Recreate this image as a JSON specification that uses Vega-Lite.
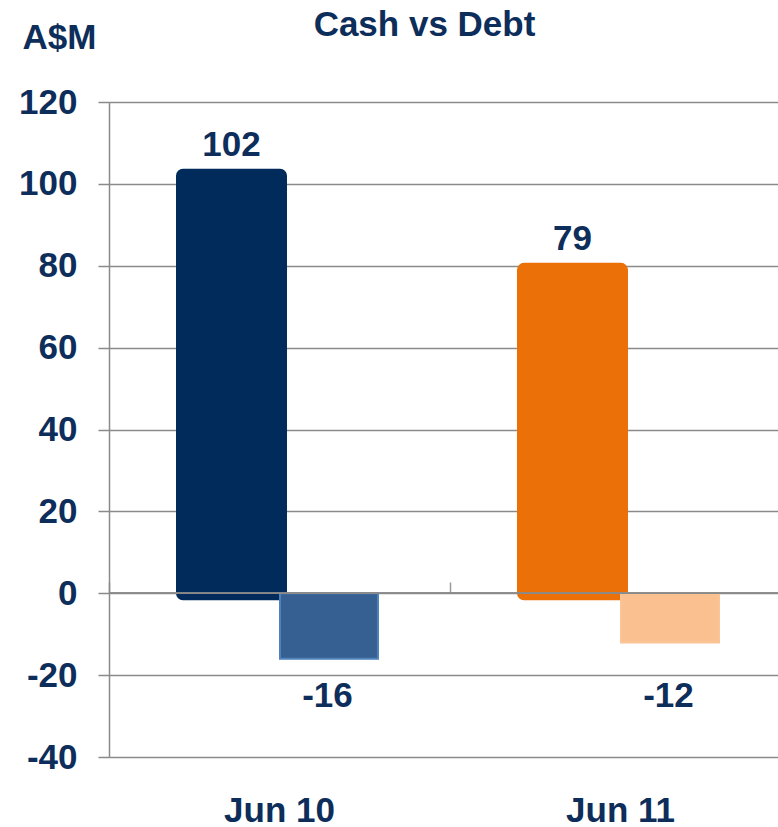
{
  "$schema": "https://vega.github.io/schema/vega-lite/v6.json",
  "autosize": "none",
  "padding": {"left": 109, "top": 102, "right": 0, "bottom": 70},
  "width": 669,
  "height": 655,
  "background": "white",
  "title": {"text": "Cash vs Debt", "anchor": "middle", "dx": -19, "fontSize": 35, "font": "Liberation Sans", "fontWeight": "bold", "color": "#0D2D5A", "baseline": "alphabetic", "offset": -51},
  "config": {
    "view": {"stroke": null},
    "locale": {"number": {"decimal": ".", "thousands": ",", "grouping": [3], "currency": ["$", ""], "minus": "-"}}
  },
  "data": {"values": [
    {"period": "Jun 10", "type": "Cash", "series": "c10", "value": 102},
    {"period": "Jun 10", "type": "Debt", "series": "d10", "value": -16},
    {"period": "Jun 11", "type": "Cash", "series": "c11", "value": 79},
    {"period": "Jun 11", "type": "Debt", "series": "d11", "value": -12}
  ]},
  "layer": [
    {
      "transform": [{"filter": "datum.type == 'Cash'"}],
      "mark": {"type": "bar", "width": 97, "xOffset": -48, "strokeWidth": 14, "strokeJoin": "round"},
      "encoding": {
        "x": {"field": "period", "type": "nominal", "sort": ["Jun 10", "Jun 11"],
          "scale": {"range": [0, 682], "paddingInner": 0, "paddingOuter": 0},
          "axis": {"orient": "bottom", "title": null, "labelAngle": 0, "domain": false, "ticks": false, "grid": false, "labelPadding": 36,
            "labelFontSize": 35, "labelFont": "Liberation Sans", "labelFontWeight": "bold", "labelColor": "#0D2D5A"}},
        "y": {"field": "value", "type": "quantitative", "scale": {"domain": [-40, 120], "nice": false},
          "axis": {"values": [-40, -20, 0, 20, 40, 60, 80, 100, 120], "grid": true, "gridColor": "#8a8a8a", "gridWidth": 1.5,
            "domainColor": "#8a8a8a", "domainWidth": 1.5, "tickColor": "#8a8a8a", "tickSize": 11, "tickWidth": 1.5,
            "labelFontSize": 35, "labelFont": "Liberation Sans", "labelFontWeight": "bold", "labelColor": "#0D2D5A", "labelPadding": 21,
            "title": "A$M", "titleAngle": 0, "titleX": -87, "titleY": -54, "titleAlign": "left", "titleBaseline": "alphabetic",
            "titleFontSize": 35, "titleFont": "Liberation Sans", "titleFontWeight": "bold", "titleColor": "#0D2D5A"}},
        "color": {"field": "series", "type": "nominal", "legend": null,
          "scale": {"domain": ["c10", "d10", "c11", "d11"], "range": ["#002B5A", "#376092", "#EB7008", "#FAC090"]}},
        "stroke": {"field": "series", "type": "nominal", "legend": null,
          "scale": {"domain": ["c10", "d10", "c11", "d11"], "range": ["#002B5A", "#4F81BD", "#EB7008", "#FBC497"]}}
      }
    },
    {
      "transform": [{"filter": "datum.type == 'Debt'"}],
      "mark": {"type": "bar", "width": 98, "xOffset": 49.5, "strokeWidth": 2},
      "encoding": {
        "x": {"field": "period", "type": "nominal", "sort": ["Jun 10", "Jun 11"],
          "axis": {"orient": "top", "offset": -491, "title": null, "labels": false, "domain": false, "grid": false, "ticks": true,
            "tickSize": 11, "tickColor": "#9a9a9a", "tickWidth": 1.5, "bandPosition": 0}},
        "y": {"field": "value", "type": "quantitative"},
        "color": {"field": "series", "type": "nominal", "legend": null},
        "stroke": {"field": "series", "type": "nominal", "legend": null}
      }
    },
    {
      "transform": [{"filter": "datum.type == 'Cash'"}],
      "mark": {"type": "text", "xOffset": -48, "dy": -19.4, "baseline": "alphabetic", "align": "center", "fontSize": 35, "font": "Liberation Sans", "fontWeight": "bold", "color": "#0D2D5A"},
      "encoding": {
        "x": {"field": "period", "type": "nominal", "sort": ["Jun 10", "Jun 11"], "axis": null},
        "y": {"field": "value", "type": "quantitative"},
        "text": {"field": "value", "type": "quantitative"}
      }
    },
    {
      "transform": [{"filter": "datum.type == 'Debt'"}],
      "mark": {"type": "text", "xOffset": 48, "baseline": "alphabetic", "align": "center", "fontSize": 35, "font": "Liberation Sans", "fontWeight": "bold", "color": "#0D2D5A"},
      "encoding": {
        "x": {"field": "period", "type": "nominal", "sort": ["Jun 10", "Jun 11"], "axis": null},
        "y": {"datum": -27.7, "type": "quantitative"},
        "text": {"field": "value", "type": "quantitative"}
      }
    },
    {
      "mark": {"type": "rule", "color": "#8a8a8a", "strokeWidth": 1.5},
      "encoding": {"y": {"datum": 0, "type": "quantitative"}}
    }
  ],
  "resolve": {"axis": {"x": "independent"}}
}
